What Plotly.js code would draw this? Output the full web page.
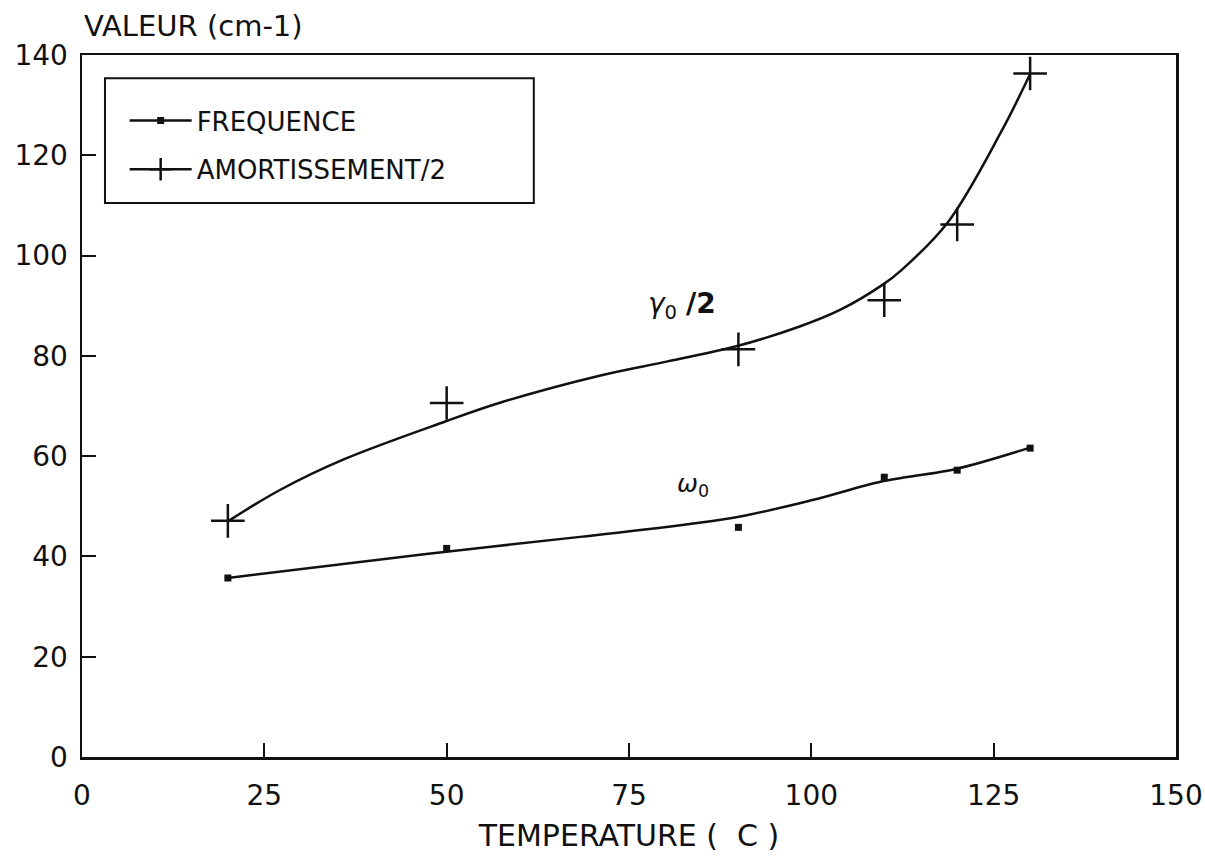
<!DOCTYPE html>
<html>
<head>
<meta charset="utf-8">
<script src="https://cdn.plot.ly/plotly-3.0.1.min.js"></script>
<style>html,body{margin:0;padding:0;background:#fff;}#chart{width:1205px;height:856px;}</style>
</head>
<body>
<div id="chart"></div>
<script>
// Measured points
const temperature = [20, 50, 90, 110, 120, 130];
const frequence = [35.7, 41.6, 45.8, 55.8, 57.2, 61.6];
const amortissement = [47.1, 70.6, 81.3, 91.1, 106.2, 136.3];

// Hand-drawn smooth curves
const freqCurveX = [20, 47.2, 68.3, 88.9, 100.3, 109.5, 120, 130];
const freqCurveY = [35.7, 40.5, 43.9, 47.6, 51.3, 54.9, 57.5, 61.7];
const gammaCurveX = [20, 27.2, 35.8, 49.8, 57.4, 71.1, 80.3, 89.7, 98.5, 104, 109.9, 112.2, 118.7, 126, 130];
const gammaCurveY = [47, 53.3, 59.3, 66.9, 70.7, 76.1, 78.9, 81.9, 85.9, 89.2, 94.3, 96.9, 106.6, 124.6, 136.2];

// Axis ticks
const xTicks = [0, 25, 50, 75, 100, 125, 150];
const yTicks = [0, 20, 40, 60, 80, 100, 120, 140];

const seriesNames = ["FREQUENCE", "AMORTISSEMENT/2"];
const xTitle = "TEMPERATURE (  C )";
const yTitle = "VALEUR (cm-1)";

const FONT = "DejaVu Sans, Arial, sans-serif";
const INK = "#111";

const traces = [
  {x: freqCurveX, y: freqCurveY, mode: "lines", line: {color: INK, width: 2.5, shape: "spline", smoothing: 0.9}, showlegend: false, hoverinfo: "skip"},
  {x: gammaCurveX, y: gammaCurveY, mode: "lines", line: {color: INK, width: 2.5, shape: "spline", smoothing: 1}, showlegend: false, hoverinfo: "skip"},
  {x: temperature, y: frequence, mode: "markers", marker: {symbol: "square", size: 7, color: INK}, showlegend: false},
  {x: temperature, y: amortissement, mode: "markers", marker: {symbol: "cross-thin-open", size: 24, color: INK, line: {color: INK, width: 2.5}}, showlegend: false},
  // legend entries
  {x: [null], y: [null], name: seriesNames[0], mode: "lines+markers", legendgroup: "a",
   line: {color: INK, width: 2.5}, marker: {symbol: "square", size: 7, color: INK}},
  {x: [null], y: [null], name: seriesNames[1], mode: "lines+markers", legendgroup: "b",
   line: {color: INK, width: 2.5}, marker: {symbol: "cross-thin-open", size: 24, color: INK, line: {color: INK, width: 2.5}}}
];

const layout = {
  width: 1205, height: 856,
  margin: {l: 82, r: 29, t: 55, b: 99},
  paper_bgcolor: "#fff", plot_bgcolor: "#fff",
  font: {family: FONT, color: INK},
  showlegend: true,
  legend: {
    x: 0.039, y: 0.94, xanchor: "left", yanchor: "top",
    bgcolor: "rgba(0,0,0,0)", borderwidth: 0,
    font: {family: FONT, size: 26, color: INK},
    traceorder: "grouped", tracegroupgap: 12, itemwidth: 62
  },
  xaxis: {
    range: [0, 150], tickvals: xTicks, ticktext: xTicks.map(String),
    ticks: "inside", ticklen: 14, tickwidth: 2, tickcolor: INK,
    showline: true, linewidth: 2.5, linecolor: INK, mirror: true,
    showgrid: false, zeroline: false,
    tickfont: {family: FONT, size: 28, color: INK},
    ticklabelstandoff: 12,
    title: {text: xTitle, font: {family: FONT, size: 30, color: INK}, standoff: 14}
  },
  yaxis: {
    range: [0, 140], tickvals: yTicks, ticktext: yTicks.map(String),
    ticks: "inside", ticklen: 14, tickwidth: 2, tickcolor: INK,
    showline: true, linewidth: 2.5, linecolor: INK, mirror: true,
    showgrid: false, zeroline: false,
    tickfont: {family: FONT, size: 28, color: INK},
    ticklabelstandoff: 6
  },
  shapes: [
    {type: "rect", xref: "paper", yref: "paper", x0: 0.021, x1: 0.413, y0: 0.789, y1: 0.967,
     line: {color: INK, width: 2}, fillcolor: "rgba(0,0,0,0)"}
  ],
  annotations: [
    {xref: "paper", yref: "paper", x: 0, y: 1, xanchor: "left", yanchor: "bottom", yshift: 10,
     text: yTitle, showarrow: false, font: {family: FONT, size: 29, color: INK}},
    {x: 82.2, y: 90.1, xref: "x", yref: "y", showarrow: false,
     text: "<i>γ</i><sub>0</sub> <b>/2</b>", font: {family: FONT, size: 28, color: INK}},
    {x: 83.8, y: 54.3, xref: "x", yref: "y", showarrow: false,
     text: "<i>ω</i><sub>0</sub>", font: {family: FONT, size: 25, color: INK}}
  ]
};

Plotly.newPlot("chart", traces, layout, {displayModeBar: false, staticPlot: true});
</script>
</body>
</html>
